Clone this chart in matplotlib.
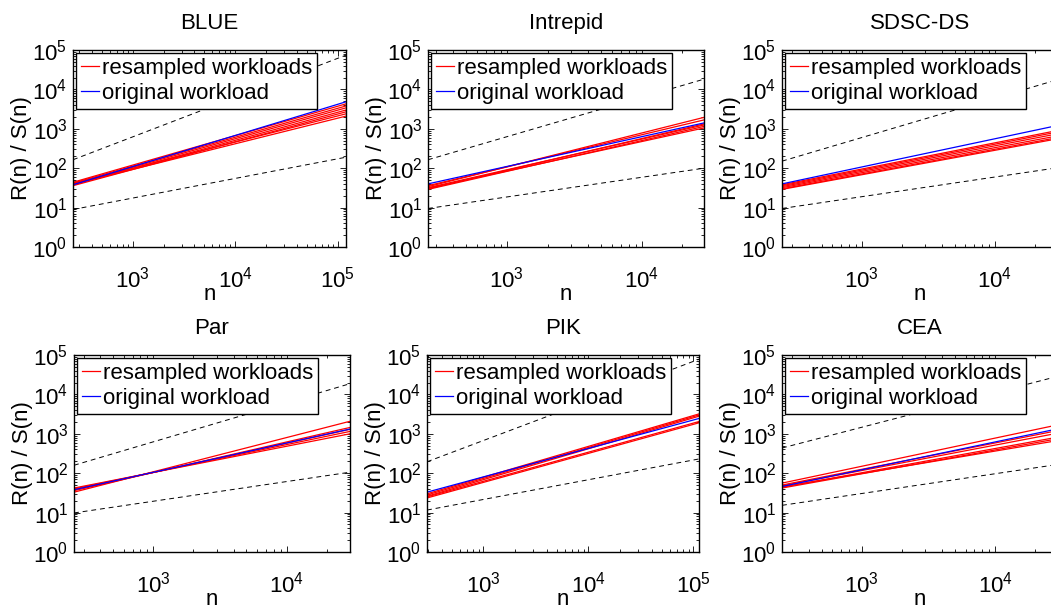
#!/usr/bin/env python3

import matplotlib
matplotlib.use("Agg")
import matplotlib.pyplot as plt
from matplotlib.ticker import LogLocator, LogFormatterSciNotation, NullFormatter

plt.rcParams['font.family'] = ['Liberation Sans', 'DejaVu Sans']
plt.rcParams['mathtext.fontset'] = 'custom'
plt.rcParams['mathtext.rm'] = 'Liberation Sans'
plt.rcParams['font.size'] = 16

titles = ["BLUE", "Intrepid", "SDSC-DS", "Par", "PIK", "CEA"]

# n range covered by each fitted R/S line
n_lo = [261, 260, 252, 254, 291, 251]
n_hi = [121000, 28900, 29700, 29900, 113000, 29700]

# R/S of the resampled workloads at n_lo and n_hi
red_lo = [
    [44, 42, 40, 38, 36, 41, 39],
    [34, 36, 30, 32, 29, 31],
    [38, 36, 34, 32, 30, 29],
    [33, 36, 38, 40, 42],
    [30, 28, 26, 25, 23.5],
    [56, 50, 48, 44, 42, 45],
]
red_hi = [
    [4300, 3800, 3400, 3000, 2700, 2400, 2100],
    [1950, 1680, 1330, 1250, 1150, 1050],
    [910, 835, 750, 665, 600, 560],
    [2080, 1450, 1300, 1150, 1000],
    [3200, 3000, 2800, 2050, 1900],
    [1690, 1210, 1040, 825, 750, 675],
]
# R/S of the original workload
blue_lo = [38, 40, 40, 38, 33, 46]
blue_hi = [4850, 1410, 1220, 1320, 2450, 1340]

# dashed guide lines (upper and lower)
upper_lo = [164, 164, 151, 159, 195, 436]
upper_hi = [74000, 18200, 17800, 18700, 78000, 28900]
lower_lo = [8.95, 9.5, 9.5, 9.8, 11.6, 15.3]
lower_hi = [190, 100, 103, 106, 230, 167]

W, H = 1051, 606
# axes boxes in pixels: left, right, top, bottom
boxes = [
    (73, 346, 50, 247), (428, 704, 50, 247), (782, 1058, 50, 247),
    (74, 350, 355, 552), (427, 699, 355, 552), (782, 1058, 355, 552),
]
xlims = [(261, 121000), (260, 28900), (252, 29700),
         (254, 29900), (291, 113000), (251, 29700)]

fig = plt.figure(figsize=(W / 100, H / 100), dpi=100)

for i, (l, r, t, b) in enumerate(boxes):
    ax = fig.add_axes([l / W, (H - b) / H, (r - l) / W, (b - t) / H])
    ax.set_xscale('log')
    ax.set_yscale('log')

    xs = [n_lo[i], n_hi[i]]
    ax.plot(xs, [upper_lo[i], upper_hi[i]], color='k', lw=0.7, ls=(0, (5, 4)))
    ax.plot(xs, [lower_lo[i], lower_hi[i]], color='k', lw=0.7, ls=(0, (5, 4)))
    for j, (lo, hi) in enumerate(zip(red_lo[i], red_hi[i])):
        ax.plot(xs, [lo, hi], color='r', lw=0.9,
                label='resampled workloads' if j == 0 else None)
    ax.plot(xs, [blue_lo[i], blue_hi[i]], color='b', lw=0.9,
            label='original workload')

    ax.set_xlim(*xlims[i])
    ax.set_ylim(1, 1e5)
    ax.yaxis.set_major_locator(LogLocator(base=10, numticks=10))
    ax.yaxis.set_minor_locator(LogLocator(base=10, subs=range(2, 10), numticks=10))
    ax.yaxis.set_minor_formatter(NullFormatter())
    ax.xaxis.set_minor_formatter(NullFormatter())
    ax.xaxis.set_major_formatter(LogFormatterSciNotation())
    ax.tick_params(which='both', direction='in', top=True, right=True, width=0.6)
    ax.tick_params(which='major', length=4)
    ax.tick_params(which='minor', length=2)
    ax.tick_params(axis='x', pad=14)
    ax.tick_params(axis='y', pad=4)
    for s in ax.spines.values():
        s.set_linewidth(1.0)

    ax.set_title(titles[i], pad=15, fontsize=16)
    ax.set_xlabel('n')
    ax.set_ylabel('R(n) / S(n)')
    ax.xaxis.set_label_coords(0.5, -37 / (b - t))
    ax.yaxis.set_label_coords(-41 / (r - l), 0.5)

    leg = ax.legend(loc='upper left', handlelength=0.8, handletextpad=0.15,
                    borderpad=0.2, labelspacing=0.2, borderaxespad=0.15,
                    fancybox=False, framealpha=1, fontsize=16)
    leg.get_frame().set_edgecolor('k')
    leg.get_frame().set_linewidth(1.0)

fig.savefig('out.png', dpi=100)
